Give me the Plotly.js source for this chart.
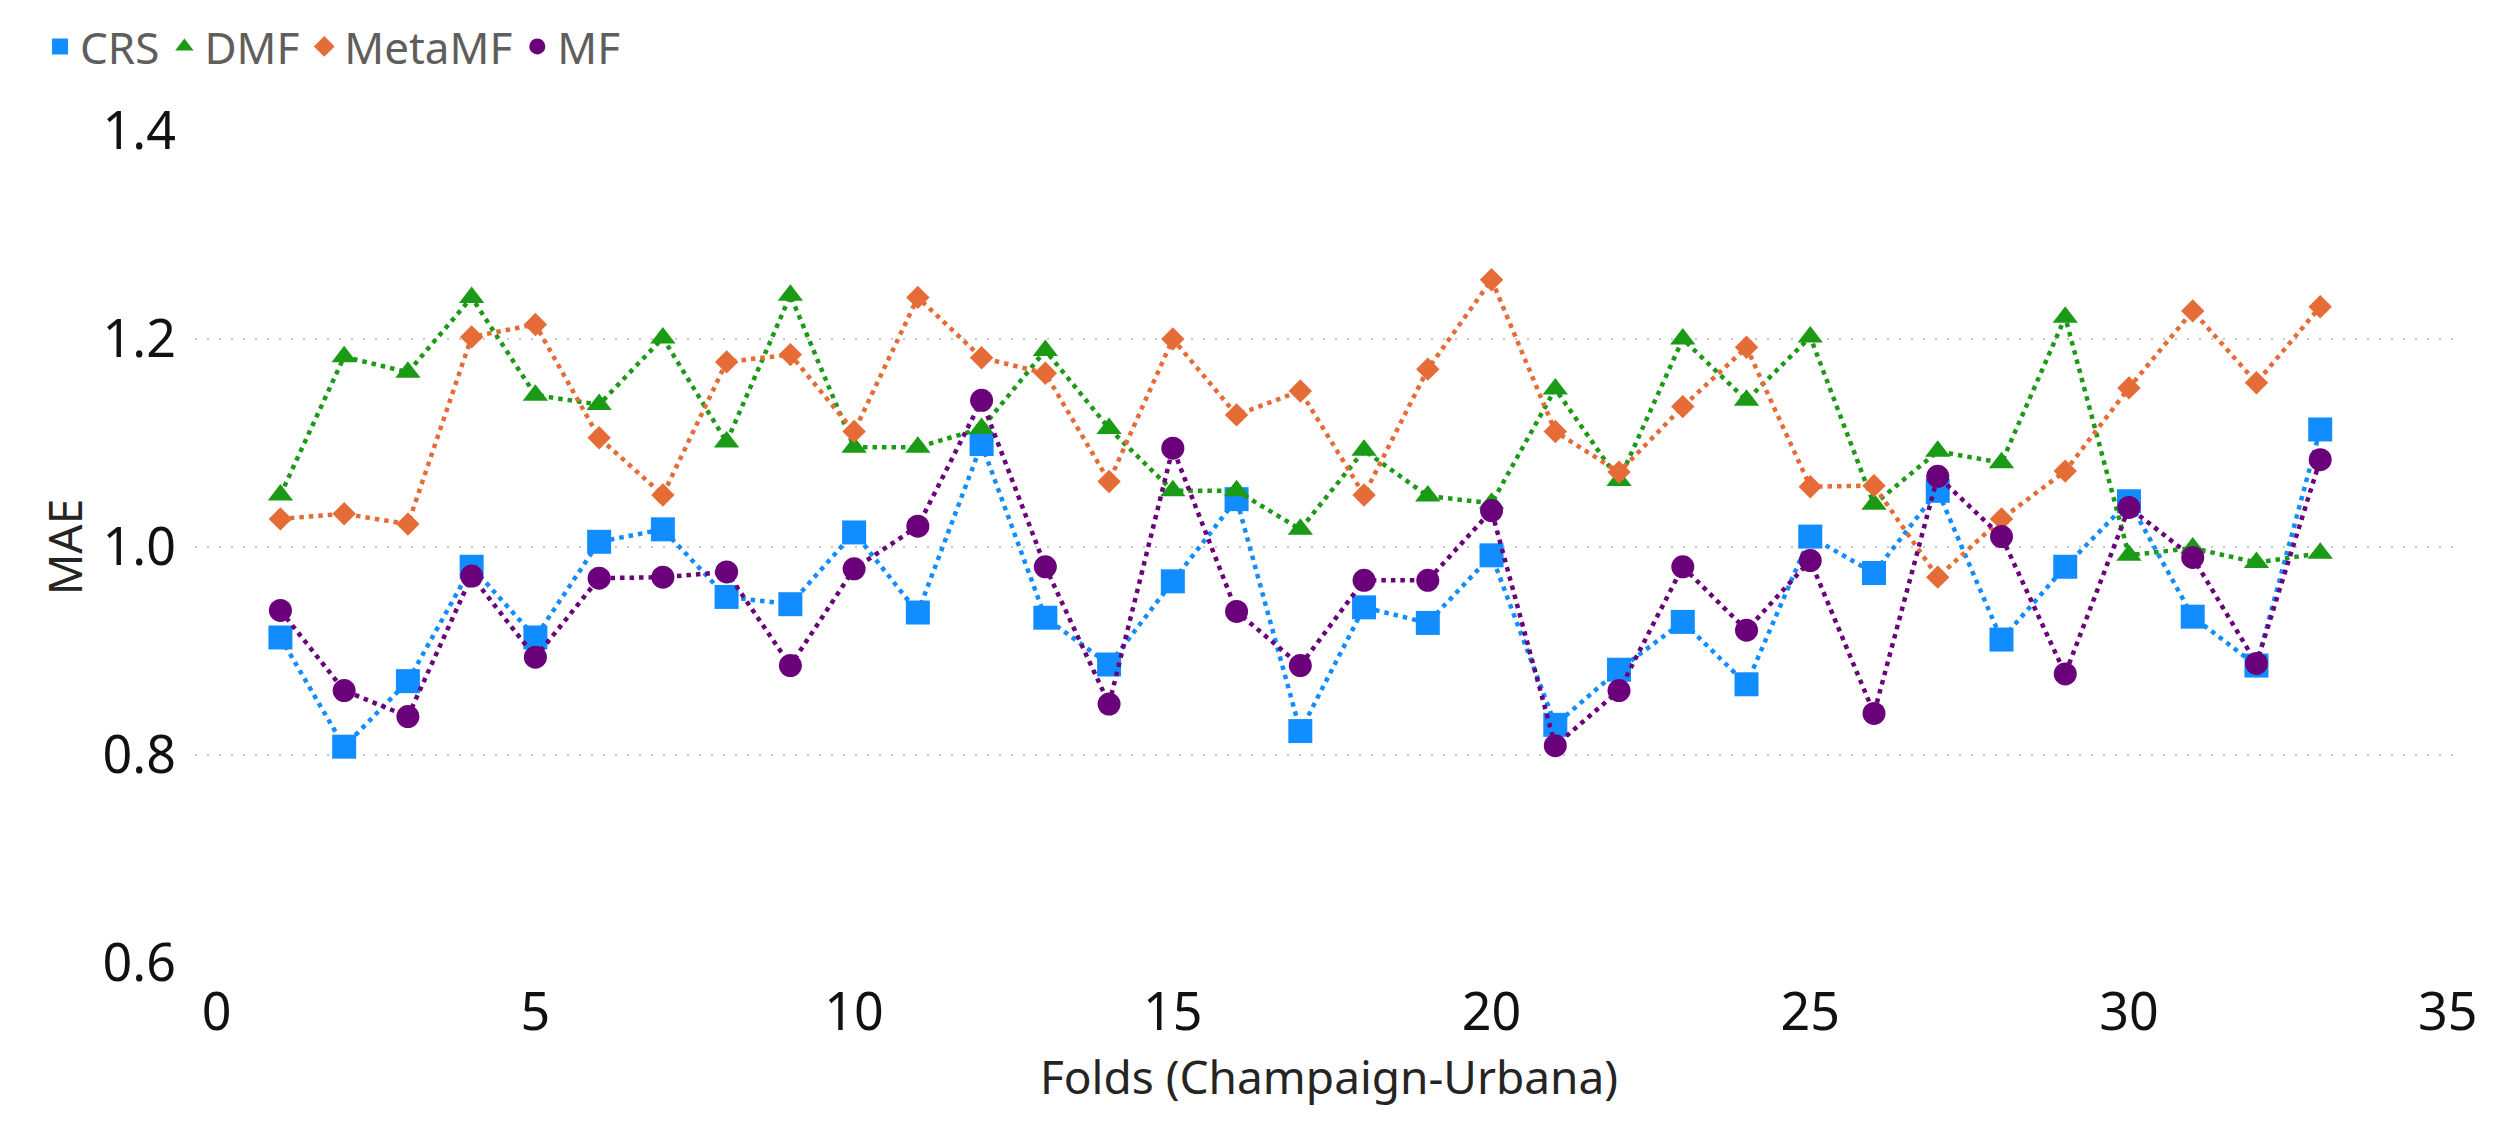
<!DOCTYPE html>
<html>
<head>
<meta charset="utf-8">
<script src="https://cdn.plot.ly/plotly-3.0.1.min.js"></script>
<style>
  html, body { margin: 0; padding: 0; background: #fff; }
  #chart { width: 2502px; height: 1132px; }
</style>
</head>
<body>
<div id="chart"></div>
<script>
const folds = [1,2,3,4,5,6,7,8,9,10,11,12,13,14,15,16,17,18,19,20,21,22,23,24,25,26,27,28,29,30,31,32,33];

const crs = [0.913,0.808,0.871,0.981,0.913,1.005,1.017,0.952,0.945,1.014,0.937,1.099,0.932,0.887,0.967,1.046,0.823,
             0.942,0.927,0.992,0.829,0.882,0.928,0.868,1.010,0.975,1.054,0.911,0.981,1.044,0.933,0.886,1.113];

const dmf = [1.050,1.183,1.168,1.240,1.146,1.137,1.201,1.101,1.242,1.096,1.096,1.114,1.189,1.114,1.054,1.054,1.017,
             1.093,1.049,1.042,1.152,1.064,1.200,1.141,1.202,1.041,1.092,1.081,1.221,0.992,0.999,0.985,0.994];

const metamf = [1.027,1.032,1.022,1.202,1.214,1.105,1.050,1.178,1.185,1.111,1.240,1.182,1.167,1.063,1.200,1.127,1.150,
                1.050,1.171,1.257,1.111,1.072,1.135,1.192,1.058,1.059,0.971,1.027,1.073,1.153,1.227,1.158,1.231];

const mf = [0.939,0.862,0.837,0.972,0.894,0.970,0.971,0.976,0.886,0.979,1.020,1.141,0.981,0.849,1.095,0.938,0.886,
            0.968,0.968,1.035,0.809,0.862,0.981,0.920,0.987,0.840,1.068,1.010,0.878,1.038,0.990,0.888,1.084];

const seriesNames = ["CRS", "DMF", "MetaMF", "MF"];
const xTickVals = [0,5,10,15,20,25,30,35];
const yTickVals = [0.6,0.8,1.0,1.2,1.4];
const yTickText = ["0.6","0.8","1.0","1.2","1.4"];

const colors = ["#118DFF", "#1B9A15", "#E66C37", "#6B007B"];
const symbols = ["square", "triangle-up", "diamond", "circle"];
const sizes = [24, 22, 18, 23];
const ys = [crs, dmf, metamf, mf];

const traces = [];
seriesNames.forEach((name, i) => {
  traces.push({
    type: "scatter",
    mode: "lines",
    name: name,
    legendgroup: name,
    showlegend: false,
    x: folds,
    y: ys[i],
    line: { color: colors[i], width: 4.5, dash: "4.5px,5px" },
    cliponaxis: false
  });
  traces.push({
    type: "scatter",
    mode: "markers",
    name: name,
    legendgroup: name,
    showlegend: true,
    x: folds,
    y: ys[i],
    marker: { color: colors[i], symbol: symbols[i], size: sizes[i] },
    cliponaxis: false
  });
});

const font = "Segoe UI, Noto Sans, Open Sans, sans-serif";

const layout = {
  width: 2502,
  height: 1132,
  paper_bgcolor: "#ffffff",
  plot_bgcolor: "#ffffff",
  margin: { l: 195, r: 39, t: 131, b: 169, pad: 0 },
  showlegend: true,
  legend: {
    orientation: "h",
    xref: "container", yref: "container",
    x: 0.016, y: 0.99,
    xanchor: "left", yanchor: "top",
    font: { family: font, size: 44, color: "#605E5C" },
    itemsizing: "trace",
    bgcolor: "rgba(0,0,0,0)"
  },
  xaxis: {
    range: [-0.34, 35.24],
    tickvals: xTickVals,
    ticktext: xTickVals.map(String),
    showgrid: false,
    zeroline: false,
    showline: false,
    ticks: "",
    ticklabelstandoff: 14,
    tickfont: { family: font, size: 52, color: "#111111" },
    title: {
      text: "Folds (Champaign-Urbana)",
      font: { family: font, size: 46, color: "#252423" },
      standoff: 14
    },
    automargin: false
  },
  yaxis: {
    range: [0.6, 1.4],
    tickvals: yTickVals,
    ticktext: yTickText,
    showgrid: true,
    gridcolor: "#C8C6C4",
    gridwidth: 2,
    griddash: "2px,10px",
    zeroline: false,
    showline: false,
    ticks: "",
    ticklabelstandoff: 18,
    tickfont: { family: font, size: 52, color: "#111111" },
    title: {
      text: "MAE",
      font: { family: font, size: 46, color: "#252423" },
      standoff: 5
    },
    automargin: false
  }
};

Plotly.newPlot("chart", traces, layout, { displayModeBar: false, staticPlot: true });
</script>
</body>
</html>
